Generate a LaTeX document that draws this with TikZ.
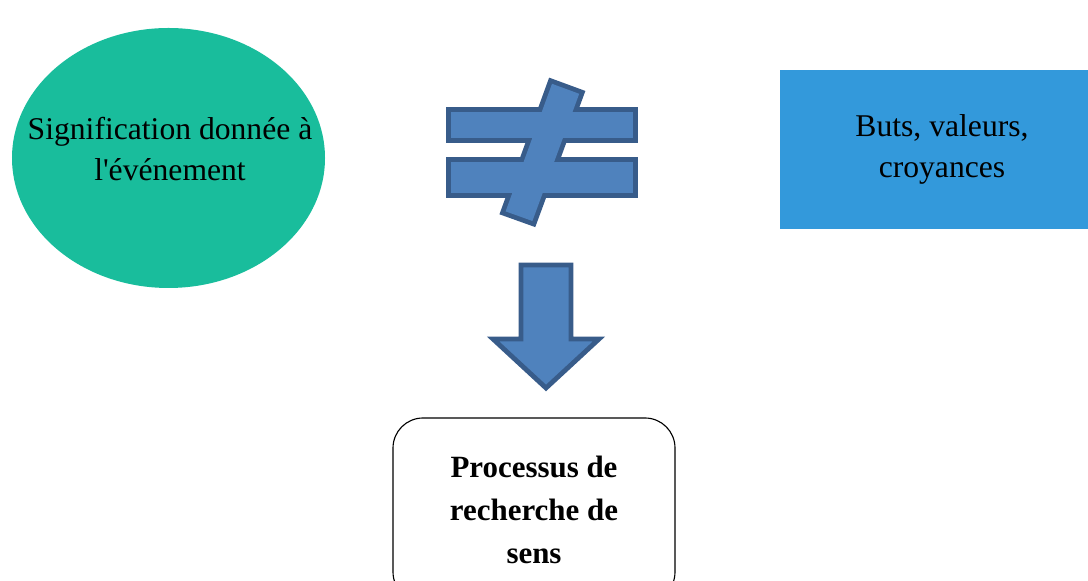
\documentclass[tikz,border=0pt]{standalone}
\usepackage{fontspec}
\setmainfont{Liberation Serif}
\usetikzlibrary{shapes.geometric}
\usetikzlibrary{positioning}
\definecolor{mteal}{rgb}{0.10, 0.74, 0.61}
\definecolor{msky}{rgb}{0.20, 0.60, 0.86}
\definecolor{mblue}{rgb}{0.31, 0.51, 0.74}
\definecolor{mdark}{rgb}{0.22, 0.36, 0.54}
\tikzset{bubble/.style = {ellipse, fill = mteal, inner sep = 0, minimum width = 7.825cm, minimum height = 6.5cm}}
\tikzset{txt/.style = {align = center, inner sep = 0, font = \fontsize{22.5}{29}\selectfont}}
\tikzset{panel/.style = {txt, fill = msky, minimum width = 8.1cm, minimum height = 3.975cm}}
\tikzset{outcome/.style = {draw, rounded corners = 0.75cm, line width = 0.8pt, minimum width = 7.05cm, minimum height = 4.6cm,
                           align = center, font = \fontsize{22}{30.5}\selectfont\bfseries}}
\tikzset{block/.style = {fill = mblue, draw = mdark, line width = 0.12cm, line join = miter}}

\begin{document}
\begin{tikzpicture}
           \useasboundingbox (0, 0) rectangle (27.2, 14.525);

           \node [bubble] (sig) at (4.2125, 10.575) {};
           \node [txt] (sigtext) at (4.25, 10.8) {Signification donnée à\\l\textquotesingle événement};
           \node [panel] (buts) at (23.55, 10.7875) {Buts, valeurs,\\croyances};
           \node [outcome] (sens) at (13.35, 1.775) {Processus de\\recherche de\\sens};

           % not equal sign: outline first, fill on top
           \draw [draw = mdark, line width = 0.24cm] (11.275, 11.075) rectangle (15.825, 11.725);
           \draw [draw = mdark, line width = 0.24cm] (11.275, 9.7) rectangle (15.825, 10.475);
           \draw [draw = mdark, line width = 0.24cm] (12.64, 9.24) -- (13.80, 12.43) -- (14.48, 12.18) -- (13.31, 9.00) -- cycle;
           \fill [mblue] (11.275, 11.075) rectangle (15.825, 11.725);
           \fill [mblue] (11.275, 9.7) rectangle (15.825, 10.475);
           \fill [mblue] (12.64, 9.24) -- (13.80, 12.43) -- (14.48, 12.18) -- (13.31, 9.00) -- cycle;

           % block arrow down
           \draw [block] (13.025, 7.9) -- (14.275, 7.9) -- (14.275, 6.05) -- (14.975, 6.05)
                 -- (13.65, 4.825) -- (12.325, 6.05) -- (13.025, 6.05) -- cycle;
         \end{tikzpicture}
\end{document}
